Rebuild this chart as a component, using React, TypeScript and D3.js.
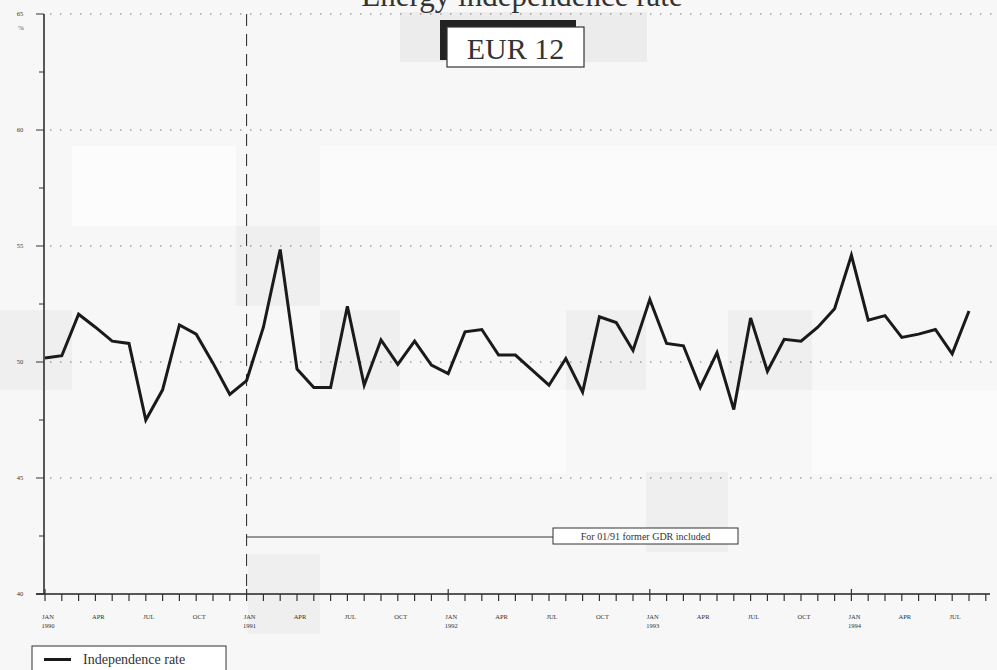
import React from "react";
import * as d3 from "d3";

const values: number[] = [
  50.17, 50.27, 52.06, 51.5, 50.9, 50.8, 47.5, 48.8, 51.6, 51.2, 49.95, 48.6,
  49.2, 51.5, 54.85, 49.7, 48.9, 48.9, 52.4, 49.0, 50.95, 49.9, 50.9, 49.87,
  49.5, 51.3, 51.4, 50.3, 50.3, 49.65, 49.0, 50.15, 48.7, 51.95, 51.7, 50.5,
  52.7, 50.8, 50.7, 48.9, 50.4, 47.95, 51.9, 49.6, 50.98, 50.9, 51.5, 52.3,
  54.6, 51.8, 52.0, 51.06, 51.2, 51.4, 50.35, 52.2,
];
const monthNames = ["JAN", "APR", "JUL", "OCT"];
const years = ["1990", "1991", "1992", "1993", "1994"];
const yMajor = [40, 45, 50, 55, 60, 65];
const yGrid = [45, 50, 55, 60, 65];
const yMinor = [42.5, 47.5, 52.5, 57.5, 62.5];
const breakIndex = 12;
const title = "Energy independence rate";
const badge = "EUR 12";
const note = "For 01/91 former GDR included";
const legendLabel = "Independence rate";

const W = 997;
const H = 670;

export default function App() {
  const x = d3.scaleLinear().domain([0, 56]).range([45, 985.8]);
  const y = d3.scaleLinear().domain([40, 65]).range([594, 14]);
  const line = d3
    .line<number>()
    .x((_, i) => x(i))
    .y((d) => y(d));
  const ticks = d3.range(0, 57);
  const serif = "'Liberation Serif', 'DejaVu Serif', serif";
  const axisY = y(40);
  return (
    <svg
      width={W}
      height={H}
      style={{ position: "absolute", left: 0, top: 0, background: "#f7f7f7" }}
      fontFamily={serif}
    >
      {/* scan patches */}
      <rect x={72} y={146} width={164} height={80} fill="#fcfcfc" />
      <rect x={320} y={146} width={677} height={80} fill="#fbfbfb" />
      <rect x={0} y={310} width={72} height={80} fill="#efefef" />
      <rect x={236} y={226} width={84} height={80} fill="#efefef" />
      <rect x={320} y={310} width={80} height={80} fill="#efefef" />
      <rect x={566} y={310} width={80} height={80} fill="#efefef" />
      <rect x={728} y={310} width={84} height={80} fill="#efefef" />
      <rect x={646} y={472} width={82} height={80} fill="#efefef" />
      <rect x={248} y={554} width={72} height={80} fill="#efefef" />
      <rect x={400} y={390} width={166} height={84} fill="#fbfbfb" />
      <rect x={812} y={390} width={185} height={84} fill="#fbfbfb" />
      <rect x={400} y={12} width={247} height={50} fill="#ececec" />

      {/* grid */}
      {yGrid.map((v) => (
        <line
          key={"g" + v}
          x1={50}
          x2={997}
          y1={y(v)}
          y2={y(v)}
          stroke="#777"
          strokeWidth={1.2}
          strokeDasharray="1.5,8.5"
        />
      ))}

      {/* title */}
      <text x={522} y={6} textAnchor="middle" fontSize={31} fill="#333">
        {title}
      </text>

      {/* badge */}
      <rect x={440} y={20} width={136} height={40} fill="#222" />
      <rect x={447} y={27} width={137} height={40} fill="#fff" stroke="#333" strokeWidth={1.2} />
      <text x={515.5} y={59} textAnchor="middle" fontSize={30} fill="#333">
        {badge}
      </text>

      {/* y axis */}
      <line x1={44} x2={44} y1={y(65)} y2={axisY} stroke="#222" strokeWidth={1.5} />
      {yMajor.map((v) => (
        <g key={"ym" + v}>
          <line x1={36} x2={44} y1={y(v)} y2={y(v)} stroke="#333" strokeWidth={1} />
          <text x={20} y={y(v) + 2} textAnchor="middle" fontSize={6.5} fill="#333">
            {v}
          </text>
        </g>
      ))}
      {yMinor.map((v) => (
        <line key={"yn" + v} x1={39} x2={44} y1={y(v)} y2={y(v)} stroke="#333" strokeWidth={1} />
      ))}
      <text x={21} y={30} textAnchor="middle" fontSize={7} fill="#555">
        %
      </text>

      {/* x axis */}
      <line x1={36} x2={990} y1={axisY} y2={axisY} stroke="#222" strokeWidth={1.5} />
      {ticks.map((i) => (
        <line
          key={"xt" + i}
          x1={x(i)}
          x2={x(i)}
          y1={i % 12 === 0 ? axisY - 5 : axisY}
          y2={axisY + 7}
          stroke="#333"
          strokeWidth={1.2}
        />
      ))}
      {ticks
        .filter((i) => i % 3 === 0 && i <= 54)
        .map((i) => (
          <text key={"xl" + i} x={x(i) + 3} y={619} textAnchor="middle" fontSize={6.5} fill="#333">
            <tspan x={x(i) + 3}>{monthNames[(i / 3) % 4]}</tspan>
            {i % 12 === 0 ? (
              <tspan x={x(i) + 3} dy={9}>
                {years[i / 12]}
              </tspan>
            ) : null}
          </text>
        ))}

      {/* break marker */}
      <line
        x1={x(breakIndex)}
        x2={x(breakIndex)}
        y1={y(65)}
        y2={axisY}
        stroke="#222"
        strokeWidth={1}
        strokeDasharray="12,8"
      />
      <line x1={x(breakIndex)} x2={553} y1={537} y2={537} stroke="#333" strokeWidth={1} />
      <rect x={553} y={528} width={185} height={16} fill="#fff" stroke="#333" strokeWidth={1} />
      <text x={645.5} y={539.5} textAnchor="middle" fontSize={10} fill="#333">
        {note}
      </text>

      {/* data line */}
      <path d={line(values) || ""} fill="none" stroke="#1a1a1a" strokeWidth={3} strokeLinejoin="miter" />

      {/* legend */}
      <rect x={32} y={646} width={194} height={30} fill="#fff" stroke="#333" strokeWidth={1} />
      <line x1={44} x2={71} y1={659.5} y2={659.5} stroke="#1a1a1a" strokeWidth={3} />
      <text x={83} y={664} fontSize={14} fill="#333">
        {legendLabel}
      </text>
    </svg>
  );
}
